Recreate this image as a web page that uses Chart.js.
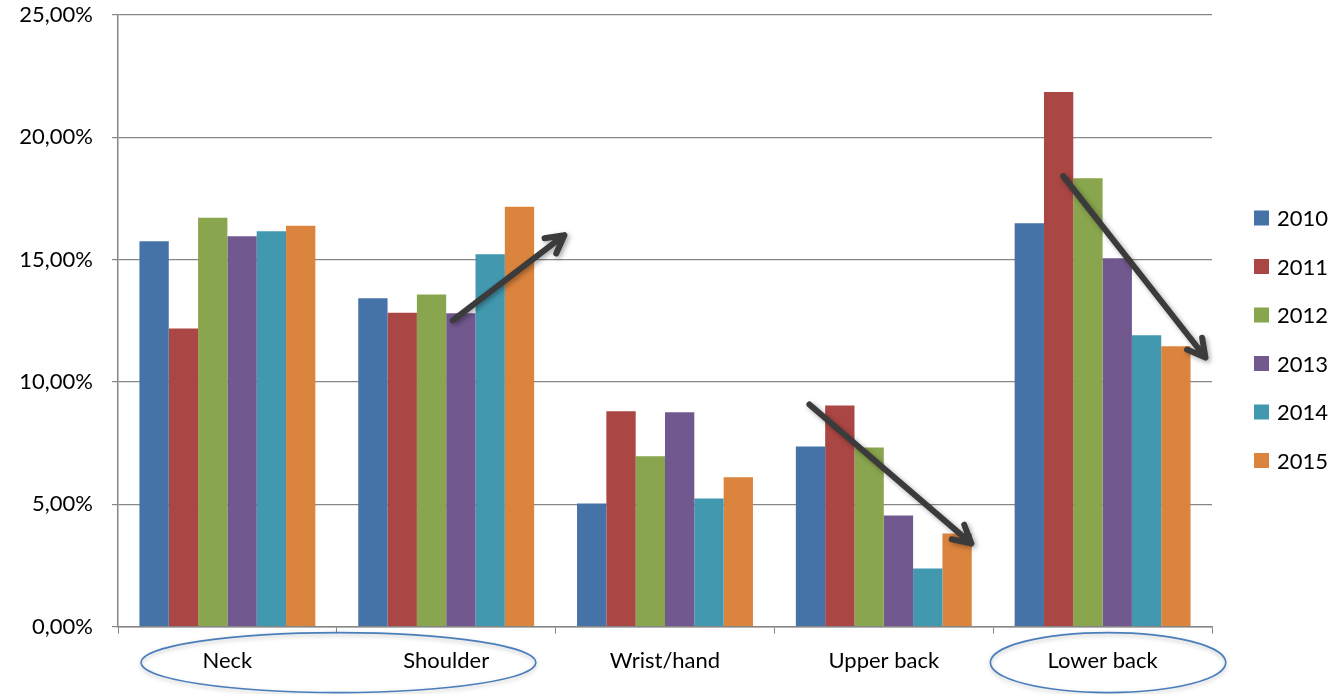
<!DOCTYPE html>
<html>
<head>
<meta charset="utf-8">
<script src="https://cdn.jsdelivr.net/npm/chart.js@4/dist/chart.umd.min.js"></script>
<style>
    html, body { margin: 0; padding: 0; background: #fff; }
    #wrap { width: 1334px; height: 694px; position: relative; }
</style>
</head>
<body>
<div id="wrap"><canvas id="bodyChart"></canvas></div>
<script>
const categories = ['Neck', 'Shoulder', 'Wrist/hand', 'Upper back', 'Lower back'];
const years = ['2010', '2011', '2012', '2013', '2014', '2015'];
const yearColors = ['#4572a7', '#aa4643', '#89a54e', '#71588f', '#4198af', '#db843d'];

const values2010 = [15.75, 13.42, 5.03, 7.36, 16.49];
const values2011 = [12.19, 12.83, 8.80, 9.04, 21.85];
const values2012 = [16.71, 13.58, 6.96, 7.32, 18.33];
const values2013 = [15.96, 12.81, 8.76, 4.54, 15.06];
const values2014 = [16.16, 15.22, 5.24, 2.37, 11.91];
const values2015 = [16.39, 17.16, 6.10, 3.81, 11.46];
const seriesValues = [values2010, values2011, values2012, values2013, values2014, values2015];

const yTicks = [0, 5, 10, 15, 20, 25];

// annotation arrows: [fromCategoryPos, fromValue, toCategoryPos, toValue]
const trendArrows = [
    [1.03, 12.52, 1.54, 16.0],
    [2.66, 9.08, 3.40, 3.40],
    [3.82, 18.41, 4.47, 11.0]
];
// ellipses round axis labels: [fromCategoryPos, toCategoryPos]
const labelCircles = [
    [-0.395, 1.41],
    [3.487, 4.563]
];

const FONT = 'Lato, "Open Sans", sans-serif';
const axisGray = '#868686';

function formatPercent(v) {
    return v.toFixed(2).replace('.', ',') + '%';
}

const annotations = {
    id: 'annotations',
    afterDraw(chart) {
        const ctx = chart.ctx;
        const xs = chart.scales.x;
        const ys = chart.scales.y;
        const step = xs.getPixelForValue(1) - xs.getPixelForValue(0);
        const px = pos => xs.getPixelForValue(0) + pos * step;

        // ellipses
        ctx.save();
        ctx.strokeStyle = '#4a7ebb';
        ctx.lineWidth = 1.6;
        ctx.shadowColor = 'rgba(0,0,0,0.25)';
        ctx.shadowBlur = 4;
        ctx.shadowOffsetY = 2;
        labelCircles.forEach(([a, b]) => {
            const x1 = px(a), x2 = px(b);
            const cy = ys.bottom + 36;
            ctx.beginPath();
            ctx.ellipse((x1 + x2) / 2, cy, (x2 - x1) / 2, 30, 0, 0, Math.PI * 2);
            ctx.stroke();
        });
        ctx.restore();

        // arrows
        ctx.save();
        ctx.strokeStyle = '#3b3b3b';
        ctx.lineWidth = 6;
        ctx.lineCap = 'round';
        ctx.lineJoin = 'round';
        ctx.shadowColor = 'rgba(0,0,0,0.35)';
        ctx.shadowBlur = 5;
        ctx.shadowOffsetX = 2;
        ctx.shadowOffsetY = 2;
        trendArrows.forEach(([a, va, b, vb]) => {
            const x1 = px(a), y1 = ys.getPixelForValue(va);
            const x2 = px(b), y2 = ys.getPixelForValue(vb);
            const ang = Math.atan2(y2 - y1, x2 - x1);
            const head = 20;
            ctx.beginPath();
            ctx.moveTo(x1, y1);
            ctx.lineTo(x2, y2);
            ctx.moveTo(x2 - head * Math.cos(ang - 0.5), y2 - head * Math.sin(ang - 0.5));
            ctx.lineTo(x2, y2);
            ctx.lineTo(x2 - head * Math.cos(ang + 0.5), y2 - head * Math.sin(ang + 0.5));
            ctx.stroke();
        });
        ctx.restore();

        // legend
        ctx.save();
        ctx.font = '22px ' + FONT;
        ctx.textBaseline = 'middle';
        chart.data.datasets.forEach((ds, i) => {
            const y = 218 + i * 48.5;
            ctx.fillStyle = ds.backgroundColor;
            ctx.fillRect(1254, y - 7.5, 15, 15);
            ctx.fillStyle = '#000';
            ctx.fillText(ds.label, 1277, y + 1);
        });
        ctx.restore();
    }
};

const chart = new Chart(document.getElementById('bodyChart').getContext('2d'), {
    type: 'bar',
    data: {
        labels: categories,
        datasets: years.map((year, i) => ({
            label: year,
            data: seriesValues[i],
            backgroundColor: yearColors[i],
            borderWidth: 0
        }))
    },
    options: {
        responsive: true,
        maintainAspectRatio: false,
        animation: false,
        layout: { padding: { top: 0, right: 122, bottom: 6, left: 0 } },
        datasets: {
            bar: { categoryPercentage: 0.804, barPercentage: 1.0 }
        },
        scales: {
            x: {
                grid: {
                    offset: true,
                    drawOnChartArea: false,
                    drawTicks: true,
                    tickLength: 7,
                    color: axisGray
                },
                border: { color: axisGray, width: 1.5 },
                ticks: {
                    color: '#000',
                    padding: 14,
                    font: { family: FONT, size: 22 }
                }
            },
            y: {
                min: 0,
                max: 25,
                afterBuildTicks(scale) {
                    scale.ticks = yTicks.map(v => ({ value: v }));
                },
                afterFit(scale) {
                    scale.width = 118;
                    scale.paddingTop = 15;
                    scale.paddingBottom = 0;
                },
                grid: {
                    color: axisGray,
                    lineWidth: 1.2,
                    tickLength: 6
                },
                border: { color: axisGray, width: 1.5 },
                ticks: {
                    color: '#000',
                    padding: 19,
                    font: { family: FONT, size: 22 },
                    callback: v => formatPercent(v)
                }
            }
        },
        plugins: {
            legend: { display: false },
            tooltip: { enabled: false }
        }
    },
    plugins: [annotations]
});
</script>
</body>
</html>
